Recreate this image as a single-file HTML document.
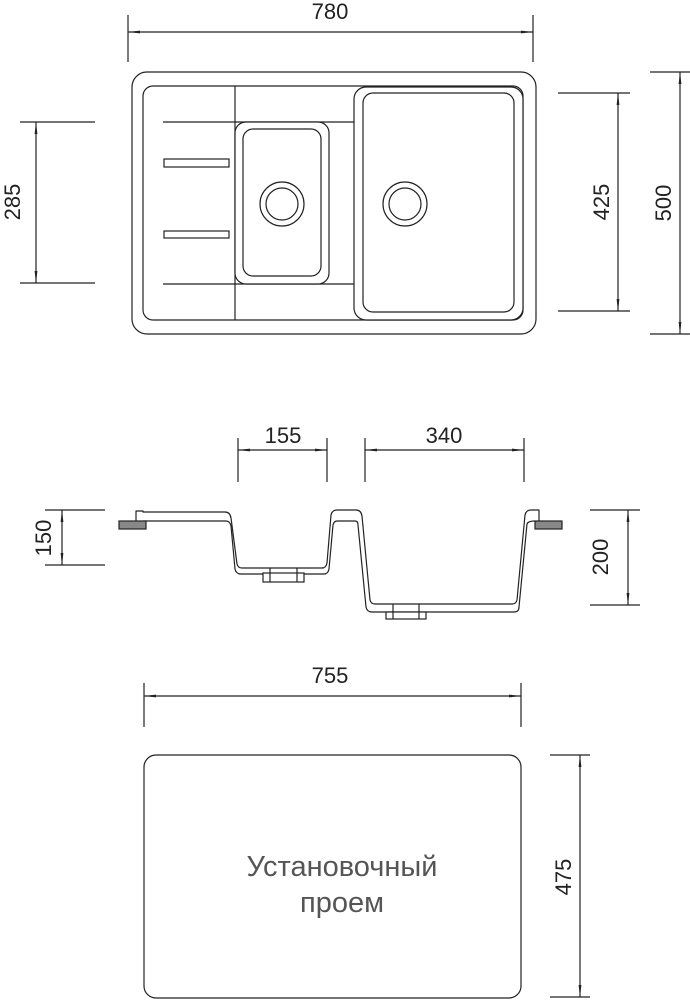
<!DOCTYPE html>
<html><head><meta charset="utf-8"><style>
html,body{margin:0;padding:0;background:#fff;}
svg{display:block;}
text{font-family:"Liberation Sans",sans-serif;fill:#222;}
</style></head><body>
<svg width="690" height="1000" viewBox="0 0 690 1000" xmlns="http://www.w3.org/2000/svg">
<defs>
<marker id="a" viewBox="0 0 12 4" refX="12" refY="2" markerWidth="12" markerHeight="4" orient="auto-start-reverse" markerUnits="userSpaceOnUse">
<path d="M0,0.6 L12,2 L0,3.4 Z" fill="#222"/></marker>
</defs>
<g stroke="#222" stroke-width="1.2" fill="none">
<line x1="128" y1="15" x2="128" y2="62"/><line x1="533" y1="15" x2="533" y2="62"/>
<line x1="128" y1="32" x2="533" y2="32" marker-start="url(#a)" marker-end="url(#a)"/>
<line x1="20" y1="122" x2="95" y2="122"/><line x1="20" y1="283" x2="95" y2="283"/>
<line x1="36" y1="122" x2="36" y2="283" marker-start="url(#a)" marker-end="url(#a)"/>
<line x1="558" y1="93" x2="630" y2="93"/><line x1="558" y1="311" x2="630" y2="311"/>
<line x1="618" y1="93" x2="618" y2="311" marker-start="url(#a)" marker-end="url(#a)"/>
<line x1="650" y1="72" x2="690" y2="72"/><line x1="650" y1="334" x2="690" y2="334"/>
<line x1="680" y1="72" x2="680" y2="334" marker-start="url(#a)" marker-end="url(#a)"/>
<rect x="132" y="72" width="404" height="262" rx="15"/>
<rect x="143" y="86" width="380" height="234" rx="10"/>
<line x1="235" y1="86" x2="235" y2="320"/>
<line x1="163" y1="122" x2="354" y2="122"/><line x1="163" y1="284" x2="354" y2="284"/>
<rect x="235" y="122" width="94" height="162" rx="11" fill="#fff"/>
<rect x="243" y="129" width="78" height="147" rx="10"/>
<circle cx="282" cy="204" r="22"/><circle cx="282" cy="204" r="16"/>
<rect x="354" y="87" width="169" height="233" rx="12" fill="#fff"/>
<rect x="363" y="93" width="151" height="219" rx="10"/>
<circle cx="405" cy="204" r="22"/><circle cx="405" cy="204" r="16"/>
<rect x="164" y="159" width="65" height="8"/>
<rect x="164" y="231" width="65" height="7"/>
<line x1="238" y1="438" x2="238" y2="482"/><line x1="327" y1="438" x2="327" y2="482"/>
<line x1="238" y1="450" x2="327" y2="450" marker-start="url(#a)" marker-end="url(#a)"/>
<line x1="365" y1="438" x2="365" y2="482"/><line x1="524" y1="438" x2="524" y2="482"/>
<line x1="365" y1="450" x2="524" y2="450" marker-start="url(#a)" marker-end="url(#a)"/>
<line x1="45" y1="510" x2="105" y2="510"/><line x1="45" y1="565" x2="105" y2="565"/>
<line x1="62" y1="510" x2="62" y2="565" marker-start="url(#a)" marker-end="url(#a)"/>
<line x1="590" y1="510" x2="640" y2="510"/><line x1="590" y1="605" x2="640" y2="605"/>
<line x1="628" y1="510" x2="628" y2="605" marker-start="url(#a)" marker-end="url(#a)"/>
<path stroke-linejoin="round" d="M136,521 L136,511 L143,511 L143,512 L225,512 Q230,512 231,518 L237,564 Q238,568 242,568 L322,568 Q326,568 327,563 L331,515 Q332,510 337,510 L356,510 Q361,510 362,516 L370,600 Q371,604 375,604 L512,604 Q516,604 517,600 L525,515 Q526,510 531,510 L539,510 L539,521"/>
<path stroke-linejoin="round" d="M143,521 L226,521 Q230,521 231,526 L235,569 Q236,574 241,574 L324,574 Q328,574 329,569 L333,525 Q334,521 337,521 L355,521 Q358,521 358,525 L366,607 Q367,612 372,612 L514,612 Q519,612 519,607 L527,524 Q528,521 535,521"/>
<rect x="263" y="573" width="41" height="9" fill="#fff"/>
<line x1="270" y1="568" x2="270" y2="582"/><line x1="297" y1="568" x2="297" y2="582"/>
<rect x="386" y="612" width="40" height="7" fill="#fff"/>
<line x1="393" y1="604" x2="393" y2="619"/><line x1="419" y1="604" x2="419" y2="619"/>
<rect x="119" y="521" width="27" height="8" fill="#888"/>
<rect x="535" y="521" width="27" height="8" fill="#888"/>
<line x1="144" y1="683" x2="144" y2="727"/><line x1="521" y1="683" x2="521" y2="727"/>
<line x1="144" y1="696" x2="521" y2="696" marker-start="url(#a)" marker-end="url(#a)"/>
<rect x="144" y="755" width="377" height="243" rx="12"/>
<line x1="550" y1="755" x2="590" y2="755"/><line x1="550" y1="997" x2="590" y2="997"/>
<line x1="580" y1="755" x2="580" y2="997" marker-start="url(#a)" marker-end="url(#a)"/>
</g>
<g font-size="22">
<text x="330" y="19" text-anchor="middle">780</text>
<text transform="translate(20,202) rotate(-90)" text-anchor="middle">285</text>
<text transform="translate(609,202) rotate(-90)" text-anchor="middle">425</text>
<text transform="translate(671,203) rotate(-90)" text-anchor="middle">500</text>
<text x="283" y="443" text-anchor="middle">155</text>
<text x="444" y="443" text-anchor="middle">340</text>
<text transform="translate(51,538) rotate(-90)" text-anchor="middle">150</text>
<text transform="translate(608,557) rotate(-90)" text-anchor="middle">200</text>
<text x="330" y="683" text-anchor="middle">755</text>
<text transform="translate(571,877) rotate(-90)" text-anchor="middle">475</text>
</g>
<g font-size="29">
<text x="342" y="876" text-anchor="middle" style="fill:#555">Установочный</text>
<text x="342" y="912" text-anchor="middle" style="fill:#555">проем</text>
</g>
</svg>
</body></html>
